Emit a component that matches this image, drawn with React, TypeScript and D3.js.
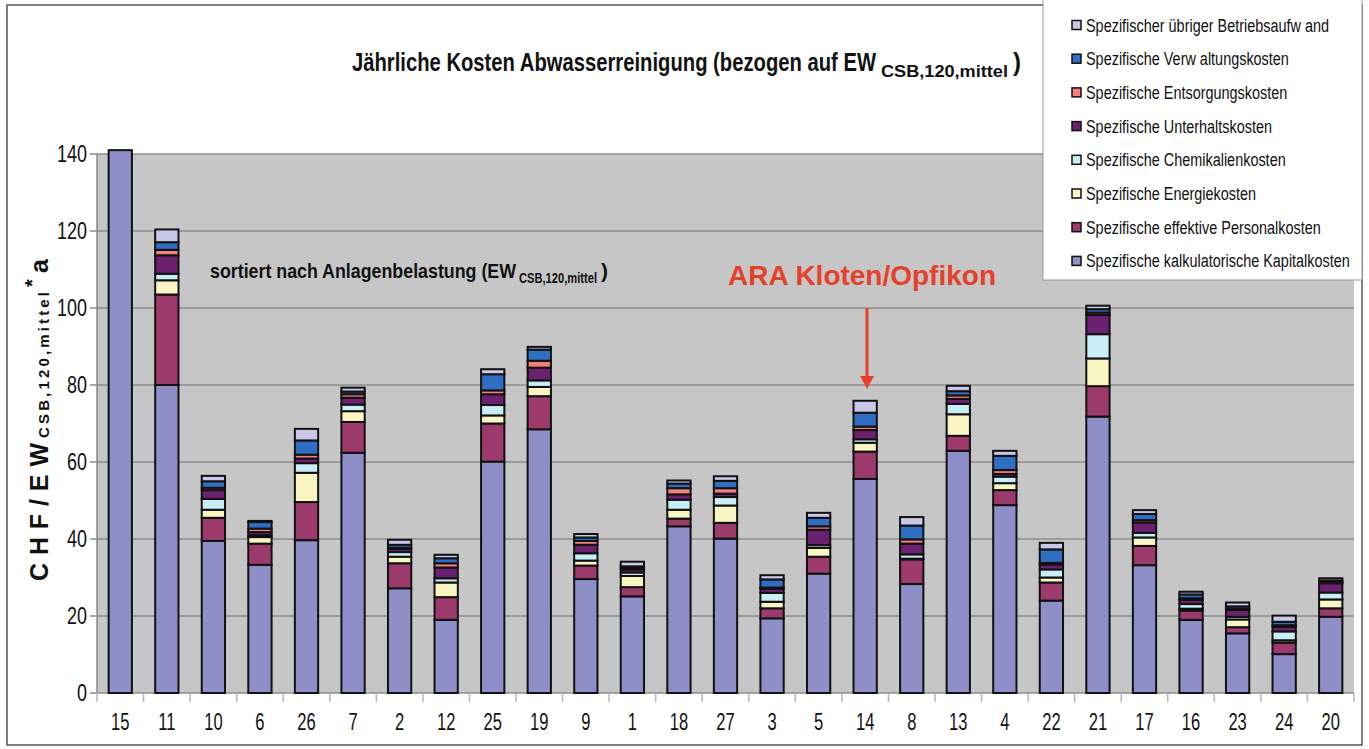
import React from "react";
import * as d3 from "d3";

const categories = ["15","11","10","6","26","7","2","12","25","19","9","1","18","27","3","5","14","8","13","4","22","21","17","16","23","24","20"];

const kapital =     [141, 80.0, 39.5, 33.3, 39.7, 62.4, 27.2, 19.0, 60.1, 68.5, 29.6, 25.1, 43.3, 40.1, 19.4, 31.0, 55.6, 28.3, 62.9, 48.8, 24.0, 71.8, 33.2, 19.0, 15.5, 10.1, 19.8];
const personal =    [0, 23.5, 6.0, 5.5, 9.9, 8.0, 6.5, 5.9, 9.9, 8.6, 3.5, 2.4, 2.0, 4.1, 2.6, 4.4, 7.1, 6.4, 3.9, 3.9, 4.7, 7.9, 5.0, 2.4, 1.6, 3.0, 2.2];
const energie =     [0, 3.7, 2.1, 1.7, 7.6, 2.8, 1.7, 3.8, 2.1, 2.4, 1.3, 2.9, 2.3, 4.5, 1.7, 2.3, 2.3, 0.2, 5.6, 1.8, 1.3, 7.2, 2.2, 0.5, 2.0, 0.6, 2.3];
const chemikalien = [0, 1.7, 2.8, 0.5, 2.5, 1.7, 1.2, 1.1, 2.7, 1.7, 1.9, 0.9, 2.6, 2.2, 2.3, 0.7, 0.9, 1.1, 2.7, 1.7, 2.1, 6.3, 1.2, 1.2, 0.7, 2.3, 1.8];
const unterhalt =   [0, 4.8, 2.3, 0.8, 1.2, 1.8, 0.8, 2.8, 2.8, 3.3, 2.2, 0.8, 1.4, 0.9, 1.1, 4.0, 2.4, 2.8, 1.3, 0.7, 1.3, 5.0, 2.7, 1.1, 1.8, 1.2, 2.4];
const entsorgung =  [0, 1.4, 0.6, 0.9, 1.0, 0.9, 0.3, 1.1, 1.0, 1.8, 1.0, 0.3, 1.6, 1.4, 0.3, 0.9, 0.9, 1.1, 0.9, 1.0, 0.4, 0.6, 0.6, 0.4, 0.3, 0.4, 0.3];
const verwaltung =  [0, 2.0, 1.7, 1.7, 3.7, 0.7, 0.8, 1.3, 4.2, 2.9, 0.9, 0.5, 1.2, 1.9, 2.1, 2.2, 3.6, 3.6, 1.1, 3.7, 3.5, 0.9, 1.6, 1.0, 0.6, 0.9, 0.4];
const uebriger =    [0, 3.3, 1.4, 0.3, 3.0, 1.0, 1.3, 0.9, 1.3, 0.7, 0.9, 1.2, 0.8, 1.2, 1.1, 1.3, 3.1, 2.2, 1.4, 1.3, 1.7, 0.9, 1.0, 0.7, 1.0, 1.6, 0.6];

const seriesNames = [
  "Spezifische kalkulatorische Kapitalkosten",
  "Spezifische effektive Personalkosten",
  "Spezifische Energiekosten",
  "Spezifische Chemikalienkosten",
  "Spezifische Unterhaltskosten",
  "Spezifische Entsorgungskosten",
  "Spezifische Verw altungskosten",
  "Spezifischer übriger Betriebsaufw and",
];
const seriesColors = ["#8e8ec8", "#9c3a6c", "#faf6c4", "#c9eef6", "#6c2070", "#f3807c", "#2f6ec2", "#cac8e8"];
const seriesValues = [kapital, personal, energie, chemikalien, unterhalt, entsorgung, verwaltung, uebriger];

const yTicks = [0, 20, 40, 60, 80, 100, 120, 140];

const SANS = "'Liberation Sans',Arial,sans-serif";

function N(props: { x: number; y: number; sx?: number; size: number; anchor?: string; weight?: string; fill?: string; children: any }) {
  const { x, y, sx = 0.78, size, anchor = "start", weight = "normal", fill = "#111", children } = props;
  return (
    <text transform={`translate(${x},${y}) scale(${sx},1)`} textAnchor={anchor as any} fontFamily={SANS} fontSize={size} fontWeight={weight} fill={fill}>
      {children}
    </text>
  );
}

export default function App() {
  const W = 1369, H = 749;
  const plot = { left: 97, right: 1354, top: 154, bottom: 693 };
  const x = d3.scaleBand<string>().domain(categories).range([plot.left, plot.right]).paddingInner(0.5).paddingOuter(0.25);
  const y = d3.scaleLinear().domain([0, 140]).range([plot.bottom, plot.top]);

  const keys = seriesNames.map((_, i) => "s" + i);
  const table = categories.map((c, j) => {
    const row: any = { cat: c };
    seriesValues.forEach((arr, i) => (row["s" + i] = arr[j]));
    return row;
  });
  const stacked = d3.stack().keys(keys)(table as any);

  const step = x.step();
  const boundaries = d3.range(categories.length + 1).map((i) => plot.left + i * step);

  return (
    <div style={{ position: "absolute", left: 0, top: 0 }}>
      <svg width={W} height={H} style={{ display: "block", background: "#fff" }}>
        <rect x={7} y={5} width={1355} height={740} fill="#fff" stroke="#555" strokeWidth={1.5} />
        {/* plot area */}
        <rect x={plot.left} y={plot.top} width={plot.right - plot.left} height={plot.bottom - plot.top} fill="#c6c6c6" />
        {yTicks.map((t) => (
          <line key={"g" + t} x1={plot.left} x2={plot.right} y1={y(t)} y2={y(t)} stroke="#8c8c8c" strokeWidth={1.5} />
        ))}
        {/* y axis */}
        <line x1={plot.left} x2={plot.left} y1={plot.top} y2={plot.bottom} stroke="#8a8a8a" strokeWidth={1.5} />
        {yTicks.map((t) => (
          <g key={"t" + t}>
            <line x1={plot.left - 7} x2={plot.left} y1={y(t)} y2={y(t)} stroke="#8a8a8a" strokeWidth={1.5} />
            <N x={plot.left - 10} y={y(t) + 8} size={23} anchor="end">{t}</N>
          </g>
        ))}
        {/* x axis ticks */}
        {boundaries.map((bx, i) => (
          <line key={"xb" + i} x1={bx} x2={bx} y1={plot.bottom} y2={plot.bottom + 9} stroke="#b5b5b5" strokeWidth={1.5} />
        ))}
        {categories.map((c) => (
          <N key={"xl" + c} x={(x(c) as number) + x.bandwidth() / 2} y={730} size={23} sx={0.72} anchor="middle">{c}</N>
        ))}
        {/* bars */}
        {stacked.map((s, i) => (
          <g key={"s" + i} fill={seriesColors[i]}>
            {s.map((d: any, j: number) => {
              const h = y(d[0]) - y(d[1]);
              if (h <= 0) return null;
              return (
                <rect key={j} x={x(categories[j]) as number} y={y(d[1])} width={x.bandwidth()} height={h} stroke="#111" strokeWidth={2} />
              );
            })}
          </g>
        ))}
        {/* title */}
        <g fontFamily={SANS} fontWeight="bold" fill="#111">
          <text x={352} y={71} fontSize={26} textLength={524} lengthAdjust="spacingAndGlyphs">Jährliche Kosten Abwasserreinigung (bezogen auf EW</text>
          <text x={881} y={77} fontSize={16} textLength={127} lengthAdjust="spacingAndGlyphs">CSB,120,mittel</text>
          <text x={1013} y={71} fontSize={26} textLength={8} lengthAdjust="spacingAndGlyphs">)</text>
        </g>
        {/* subtitle */}
        <g fontFamily={SANS} fontWeight="bold" fill="#111">
          <text x={210} y={278} fontSize={21} textLength={306} lengthAdjust="spacingAndGlyphs">sortiert nach Anlagenbelastung (EW</text>
          <text x={519} y={283} fontSize={14} textLength={78} lengthAdjust="spacingAndGlyphs">CSB,120,mittel</text>
          <text x={601} y={278} fontSize={21} textLength={7} lengthAdjust="spacingAndGlyphs">)</text>
        </g>
        {/* annotation */}
        <text x={728} y={285} fontFamily={SANS} fontWeight="bold" fontSize={28} fill="#e5402a" textLength={268} lengthAdjust="spacingAndGlyphs">ARA Kloten/Opfikon</text>
        <line x1={867} x2={867} y1={308} y2={378} stroke="#e5402a" strokeWidth={3} />
        <path d="M860,376 L874,376 L867,389 Z" fill="#e5402a" />
        {/* y label */}
        <g transform="translate(48,581) rotate(-90)" fontFamily={SANS} fontWeight="bold" fill="#111">
          <text x={0} y={0} fontSize={25} textLength={138} lengthAdjust="spacing">CHF/EW</text>
          <text x={143} y={1} fontSize={15} textLength={146} lengthAdjust="spacing">CSB,120,mittel</text>
          <text x={294} y={-9} fontSize={20}>*</text>
          <text x={308} y={0} fontSize={25}>a</text>
        </g>
        {/* legend */}
        <rect x={1043} y={-2} width={319} height={282} fill="#fff" stroke="#999" strokeWidth={1} />
        {seriesNames.slice().reverse().map((name, k) => {
          const i = seriesNames.length - 1 - k;
          const cy = 25 + k * 33.7;
          return (
            <g key={"lg" + i}>
              <rect x={1072} y={cy - 4.5} width={9} height={9} fill={seriesColors[i]} stroke="#111" strokeWidth={1.5} />
              <N x={1086} y={cy + 6.5} size={19} sx={0.76}>{name}</N>
            </g>
          );
        })}
      </svg>
    </div>
  );
}
